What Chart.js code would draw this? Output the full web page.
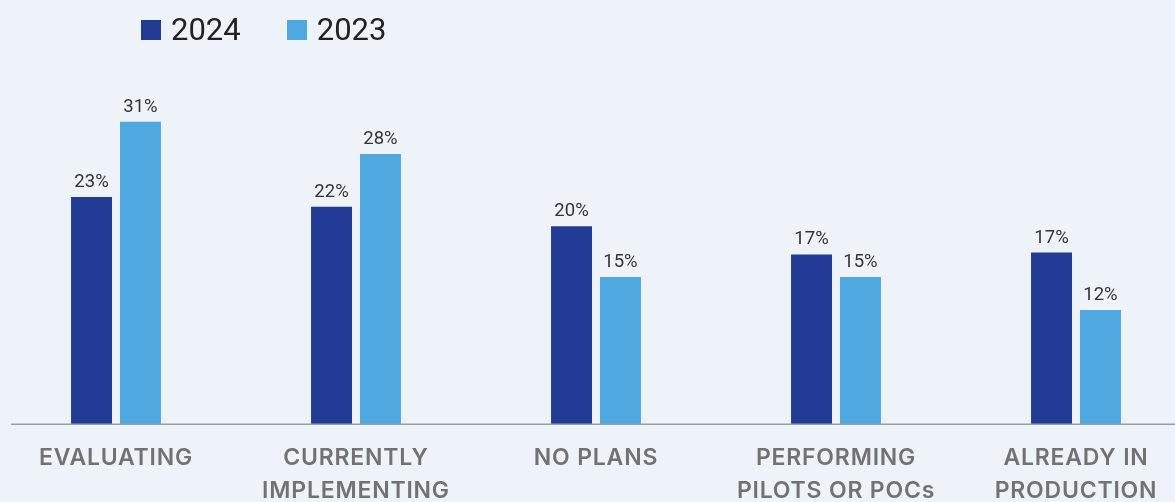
<!DOCTYPE html>
<html>
<head>
<meta charset="utf-8">
<script src="https://cdn.jsdelivr.net/npm/chart.js@4.4.1/dist/chart.umd.min.js"></script>
<style>
  html, body { margin: 0; padding: 0; background: #eef3fa; overflow: hidden; }
  #wrap { position: relative; width: 1175px; height: 502px; overflow: hidden; }
  #box { position: absolute; left: -4px; top: 0; width: 1200px; height: 550px; }
  .legend { position: absolute; top: 11px; left: 141px; display: flex; font-family: Roboto, sans-serif; font-size: 31px; color: #222; }
  .legend span.item { display: flex; align-items: center; margin-right: 46px; }
  .legend span.sw { display: inline-block; width: 20px; height: 20px; margin-right: 10px; }
</style>
</head>
<body>
<div id="wrap">
  <div id="box"><canvas id="chart" width="1200" height="550"></canvas></div>
  <div class="legend" id="legend"></div>
</div>
<script>
const categories = [
  ["EVALUATING"],
  ["CURRENTLY", "IMPLEMENTING"],
  ["NO PLANS"],
  ["PERFORMING", "PILOTS OR POCs"],
  ["ALREADY IN", "PRODUCTION"]
];
const seriesNames = ["2024", "2023"];
const values2024 = [23.3, 22.3, 20.3, 17.4, 17.6];
const values2023 = [31.0, 27.7, 15.1, 15.1, 11.7];
const labels2024 = ["23%", "22%", "20%", "17%", "17%"];
const labels2023 = ["31%", "28%", "15%", "15%", "12%"];
const seriesColors = ["#223c96", "#4fa9e0"];

// html legend
const legendEl = document.getElementById("legend");
seriesNames.forEach((name, i) => {
  const item = document.createElement("span");
  item.className = "item";
  item.innerHTML = '<span class="sw" style="background:' + seriesColors[i] + '"></span>' + name;
  legendEl.appendChild(item);
});

const valueLabels = {
  id: "valueLabels",
  afterDatasetsDraw(chart) {
    const ctx = chart.ctx;
    const texts = [labels2024, labels2023];
    ctx.save();
    ctx.letterSpacing = "0px";
    ctx.font = "18.5px Roboto";
    ctx.fillStyle = "#333";
    ctx.textAlign = "center";
    ctx.textBaseline = "alphabetic";
    chart.data.datasets.forEach((ds, i) => {
      chart.getDatasetMeta(i).data.forEach((bar, j) => {
        ctx.fillText(texts[i][j], bar.x, bar.y - 10);
      });
    });
    ctx.restore();
  }
};

const baseLine = {
  id: "baseLine",
  beforeDraw(chart) {
    chart.ctx.letterSpacing = "0.8px";
  },
  beforeDatasetsDraw(chart) {
    chart.ctx.letterSpacing = "0px";
  },
  afterDatasetsDraw(chart) {
    const ctx = chart.ctx;
    const y = chart.chartArea.bottom;
    ctx.save();
    ctx.strokeStyle = "#9a9ea4";
    ctx.lineWidth = 1.5;
    ctx.beginPath();
    ctx.moveTo(15, y);
    ctx.lineTo(chart.width, y);
    ctx.stroke();
    ctx.restore();
  }
};

new Chart(document.getElementById("chart").getContext("2d"), {
  type: "bar",
  data: {
    labels: categories,
    datasets: [
      { label: seriesNames[0], data: values2024, backgroundColor: seriesColors[0] },
      { label: seriesNames[1], data: values2023, backgroundColor: seriesColors[1] }
    ]
  },
  options: {
    responsive: false,
    animation: false,
    events: [],
    categoryPercentage: 0.408,
    barPercentage: 0.837,
    layout: { padding: { top: 92.5, bottom: 25, left: 0, right: 0 } },
    plugins: { legend: { display: false }, tooltip: { enabled: false } },
    scales: {
      x: {
        grid: { display: false, drawTicks: false },
        border: { display: false },
        ticks: {
          padding: 17,
          color: "#727272",
          font: { family: "Inter", size: 23, weight: "600", lineHeight: 1.45 },
          maxRotation: 0,
          autoSkip: false
        }
      },
      y: {
        display: false,
        min: 0,
        max: 34
      }
    }
  },
  plugins: [valueLabels, baseLine]
});
</script>
</body>
</html>
